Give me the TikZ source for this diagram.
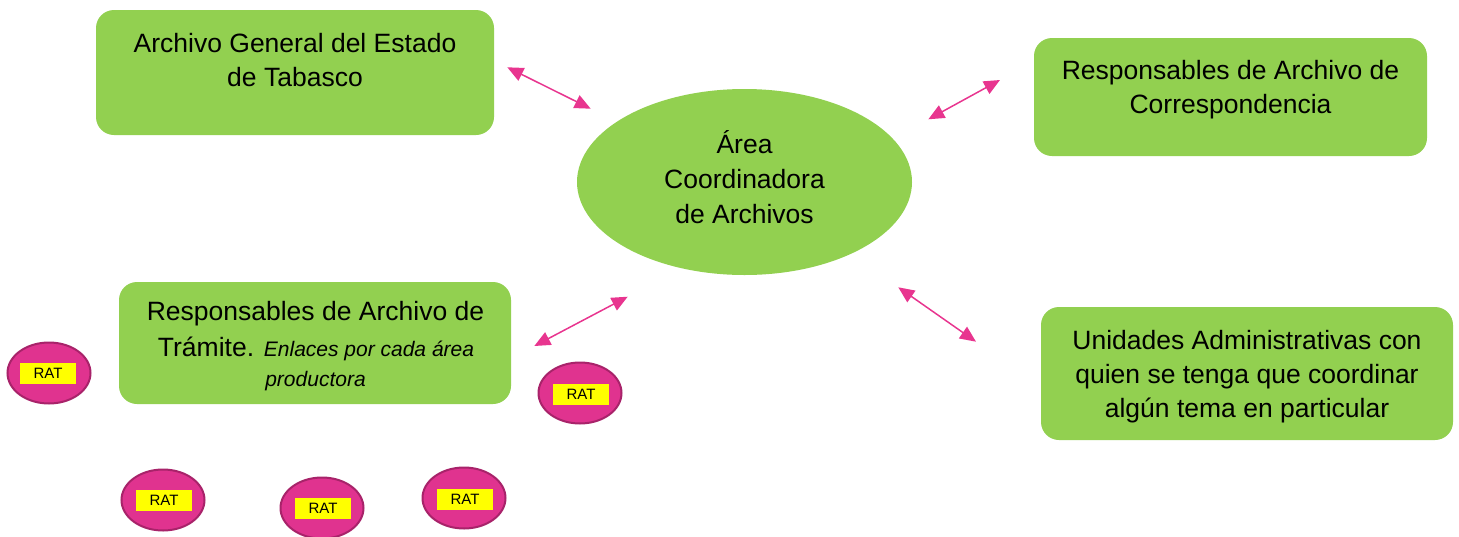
\documentclass[tikz,border=0pt]{standalone}
\usepackage{fontspec}
\setmainfont{Liberation Sans}
\usetikzlibrary{arrows.meta,shapes.geometric}
\definecolor{boxgreen}{HTML}{92D050}
\definecolor{arrowpink}{HTML}{E8358F}
\definecolor{ratfill}{HTML}{E0338F}
\definecolor{ratline}{HTML}{A8236A}
\definecolor{ratyellow}{HTML}{FFFF00}
\begin{document}
\begin{tikzpicture}[x=1pt,y=-1pt,
  greenbox/.style={fill=boxgreen, draw=none, rounded corners=18pt, inner sep=0pt},
  lbl/.style={align=center, inner sep=0pt, font=\fontsize{26.5}{34}\selectfont},
  smalllbl/.style={inner sep=0pt, font=\fontsize{21}{26}\selectfont\itshape},
  dbl/.style={draw=arrowpink, line width=1.5pt, {Triangle[length=16pt,width=14pt]}-{Triangle[length=16pt,width=14pt]}},
  ratell/.style={ellipse, fill=ratfill, draw=ratline, line width=2pt, minimum width=83pt, minimum height=61pt, inner sep=0pt},
  rattag/.style={fill=ratyellow, draw=none, minimum width=56pt, minimum height=21pt, inner sep=0pt, font=\fontsize{15}{18}\selectfont}
]
\useasboundingbox (0,0) rectangle (1459,536);

% green boxes
\node[greenbox, minimum width=398pt, minimum height=125pt] (A) at (295,72.5) {};
\node[lbl] (tA) at (295,60) {Archivo General del Estado\\de Tabasco};

\node[greenbox, minimum width=393pt, minimum height=118pt] (B) at (1230.5,97) {};
\node[lbl] (tB) at (1230.5,90) {Responsables de Archivo de\\Correspondencia};

\node[greenbox, minimum width=392pt, minimum height=122pt] (C) at (315,343) {};
\node[lbl] (tC1) at (315.5,314) {Responsables de Archivo de};
\node[lbl] (tC2) at (316,349) {Trámite. {\fontsize{21}{26}\selectfont\itshape Enlaces por cada área}};
\node[smalllbl] (tC3) at (315.5,381) {productora};

\node[greenbox, minimum width=412pt, minimum height=133pt] (D) at (1247,373.5) {};
\node[lbl] (tD) at (1247,377) {Unidades Administrativas con\\quien se tenga que coordinar\\algún tema en particular};

% central ellipse
\node[ellipse, fill=boxgreen, draw=none, minimum width=335pt, minimum height=186pt, inner sep=0pt] (E) at (744.5,182) {};
\node[align=center, inner sep=0pt, font=\fontsize{26.5}{35}\selectfont] (tE) at (744.5,177) {Área\\Coordinadora\\de Archivos};

% arrows
\coordinate (a1s) at (507.3,67.3);  \coordinate (a1e) at (590.7,108.7);
\coordinate (a2s) at (928.3,119.3); \coordinate (a2e) at (1000,80);
\coordinate (a3s) at (534.3,346);   \coordinate (a3e) at (627.7,296.7);
\coordinate (a4s) at (898.3,287.3); \coordinate (a4e) at (976,341.7);
\draw[dbl] (a1s) -- (a1e);
\draw[dbl] (a2s) -- (a2e);
\draw[dbl] (a3s) -- (a3e);
\draw[dbl] (a4s) -- (a4e);

% RAT ellipses
\node[ratell] (R1) at (49,373) {};  \node[rattag] (T1) at (48,373) {RAT};
\node[ratell] (R2) at (580,393) {}; \node[rattag] (T2) at (581,394) {RAT};
\node[ratell] (R3) at (163,500) {}; \node[rattag] (T3) at (164,500) {RAT};
\node[ratell] (R4) at (322,508) {}; \node[rattag] (T4) at (323,508) {RAT};
\node[ratell] (R5) at (464,498) {}; \node[rattag] (T5) at (465,499) {RAT};
\end{tikzpicture}
\end{document}
